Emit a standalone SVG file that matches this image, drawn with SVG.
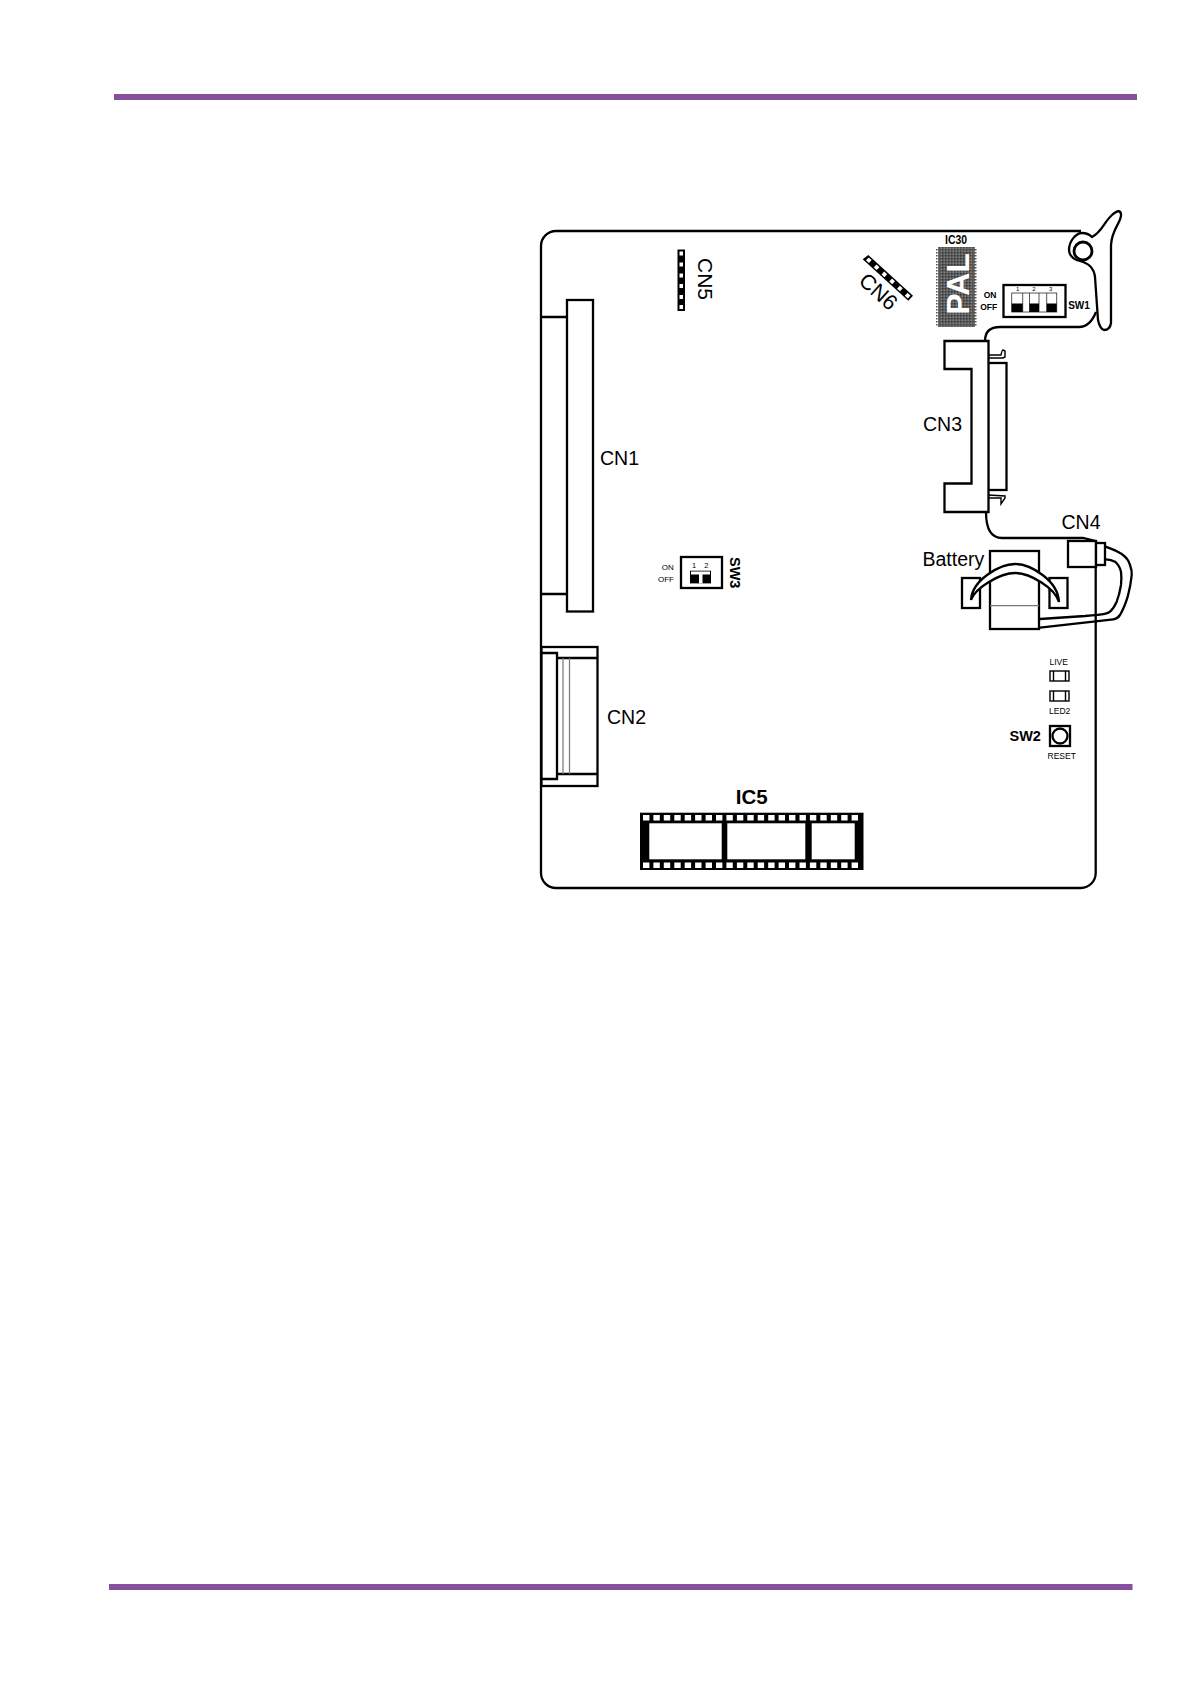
<svg xmlns="http://www.w3.org/2000/svg" width="1190" height="1684" viewBox="0 0 1190 1684">
<style>
text{font-family:"Liberation Sans",Arial,sans-serif;fill:#000}
.l{fill:none;stroke:#000;stroke-width:2.3}
.w{fill:#fff;stroke:#000;stroke-width:2.3}
.t{stroke-width:1.4}
.f{fill:none;stroke:#444;stroke-width:0.9}
.b{font-weight:bold}
.m{text-anchor:middle}
.h{fill:#fff}
.k{fill:#000}
.g{fill:none;stroke:#777;stroke-width:1.2}
</style>
<defs>
<pattern id="dots" width="3" height="3" patternUnits="userSpaceOnUse">
<rect width="3" height="3" fill="#5a5a5a"/>
<rect width="1.500" height="1.500" fill="#3a3a3a"/>
<rect x="1.500" y="1.500" width="1.500" height="1.500" fill="#7e7e7e"/>
</pattern>
<pattern id="edge" width="3" height="3" patternUnits="userSpaceOnUse">
<rect width="1.500" height="1.500" fill="#555"/>
</pattern>
</defs>
<rect width="1190" height="1684" fill="#fff"/>
<rect id="top-rule" x="114" y="94" width="1023" height="6" fill="#87509f"/>
<rect id="bottom-rule" x="109" y="1584" width="1023.500" height="6" fill="#87509f"/>
<g id="board">
<path class="l" d="M1081 231H556A15 15 0 0 0 541 246V873A15 15 0 0 0 556 888H1081A15 15 0 0 0 1095.700 873V541M986 512C986 528 990 538 1002 538H1083L1095.700 541"/>
<path class="l" d="M1096 312Q1090 327 1079 327H1000Q985 327 985 341"/>
</g>
<g id="latch">
<path class="w" d="M1092 237C1102 232 1104 222 1112 215Q1120 208 1121 214C1122 222 1112 228 1111 245L1111 323Q1110 330 1104 330Q1100 329 1098 320L1095 277C1094 268 1088 263 1080 261C1071 259 1069 253 1069 250C1069 241 1076 233 1082 233Q1088 233 1092 237Z"/>
<circle cx="1083" cy="251" r="9" fill="none" stroke="#000" stroke-width="2.800"/>
</g>
<g id="cn1">
<path class="l" d="M541 317H567M541 594H567"/>
<rect class="w" x="567" y="300" width="26" height="311.500"/>
<text x="600" y="465" font-size="19.500">CN1</text>
</g>
<g id="cn2">
<rect class="w" x="541.500" y="647" width="56" height="139"/>
<path class="l" d="M541 653H557V779H541M557 658H597M557 774H597"/>
<path class="g" d="M563 658V774M569.500 658V774"/>
<text x="607" y="724" font-size="19.500">CN2</text>
</g>
<g id="cn3">
<rect class="l" x="988" y="363" width="18.500" height="127"/>
<path class="l t" d="M988 355H1001Q1002 350 1003 350L1005 351V357L1003 358H988M988 495L1005 496V498L1001 504V498H988"/>
<path class="w" d="M944.500 341H988.500V512H944.500V483.500H971.500V369H944.500Z"/>
<text x="923" y="431" font-size="19.500">CN3</text>
</g>
<g id="cn4">
<path class="l" d="M1105.700 546.700C1112 549 1117 551 1121.700 554C1126 557 1129 561 1130 565C1131.500 569 1132 572 1131.700 575C1131 583 1129.500 590 1127.700 596.700C1125.500 604 1123 610 1120 615C1118 618 1116 619 1113.300 619.300L1040 627.700M1105.700 559.300C1109 559.500 1112 560 1115 561.700C1118 564 1120 568 1121 571.700C1121.500 576 1121.500 581 1121 585C1120 591 1118.500 597 1116.700 601.700C1115 605.500 1113 609 1110 611.700C1108 613.500 1106 614 1085 616L1040 619"/>
<rect class="w" x="1068" y="541" width="28" height="26"/>
<rect class="w" x="1096" y="543" width="9" height="22"/>
<text x="1061.500" y="529" font-size="19.500">CN4</text>
</g>
<g id="battery">
<rect class="w" x="990" y="551" width="49" height="78"/>
<path class="g" d="M990 605.700H1039"/>
<rect class="w" x="962" y="578" width="18" height="30"/>
<rect class="w" x="1049.500" y="578" width="18" height="30"/>
<path class="w" d="M971 600C972 580 1000 564 1015 564C1030 564 1058 580 1059 602C1055 588 1030 573 1015 573C1000 573 975 588 971 600Z"/>
<text x="922.500" y="566" font-size="19.500">Battery</text>
</g>
<g id="cn5">
<rect class="k" x="677.500" y="249.500" width="7.500" height="61.500"/>
<g class="h">
<rect x="679.500" y="251.500" width="3.500" height="4"/>
<rect x="679.500" y="262.500" width="3.500" height="4"/>
<rect x="679.500" y="273.500" width="3.500" height="4"/>
<rect x="679.500" y="284" width="3.500" height="4"/>
<rect x="679.500" y="295" width="3.500" height="4"/>
<rect x="679.500" y="305" width="3.500" height="4"/>
</g>
<text transform="translate(698 258) rotate(90)" font-size="21">CN5</text>
</g>
<g id="cn6">
<polygon class="k" points="862.700,259.300 868.300,255 913,295.700 908.300,300.700"/>
<g class="h" transform="translate(865.500 257.200) rotate(42.300)">
<rect x="2.500" y="-2" width="4" height="4"/>
<rect x="13" y="-2" width="4" height="4"/>
<rect x="23.500" y="-2" width="4" height="4"/>
<rect x="34" y="-2" width="4" height="4"/>
<rect x="44.500" y="-2" width="4" height="4"/>
<rect x="55" y="-2" width="4" height="4"/>
</g>
<text class="m" transform="translate(873.500 297) rotate(42)" font-size="21.500">CN6</text>
</g>
<g id="ic30">
<text class="b" x="945" y="244" font-size="12.500" textLength="22" lengthAdjust="spacingAndGlyphs">IC30</text>
<rect x="938" y="247" width="37" height="80" fill="url(#dots)"/>
<rect x="936" y="248" width="41" height="78" fill="url(#edge)"/>
<rect x="942" y="250" width="29" height="74" fill="url(#dots)"/>
<text class="b m" transform="translate(968.500 284) rotate(-90)" font-size="32" style="fill:#fff">PAL</text>
</g>
<g id="sw1">
<rect class="w" x="1003.500" y="285" width="62" height="32"/>
<rect class="f" x="1011.700" y="293" width="45" height="19"/>
<path class="f" d="M1022.700 293V312M1029.500 293V312M1039 293V312M1046.700 293V312"/>
<rect class="k" x="1011.700" y="303.500" width="11" height="8.500"/>
<rect class="k" x="1029.500" y="303.500" width="9.500" height="8.500"/>
<rect class="k" x="1046.700" y="303.500" width="10" height="8.500"/>
<g class="m" font-size="6"><text x="1017.700" y="291">1</text><text x="1034" y="291">2</text><text x="1050.700" y="291">3</text></g>
<g class="b m" font-size="8.500"><text x="990" y="298">ON</text><text x="988.700" y="310">OFF</text></g>
<text class="b m" x="1079" y="309" font-size="10">SW1</text>
</g>
<g id="sw3">
<rect class="w" x="681" y="557" width="41" height="31"/>
<rect class="k" x="690" y="570.700" width="21" height="12.700"/>
<path class="h" d="M691 571.500H710V574.500H702.500V583.400H699V574.500H691Z"/>
<g class="m" font-size="7.500"><text x="694" y="567.500">1</text><text x="706.300" y="567.500">2</text></g>
<g class="m" font-size="8"><text x="667.700" y="569.500">ON</text><text x="666" y="582">OFF</text></g>
<text class="b m" transform="translate(730 572.700) rotate(90)" font-size="14.500">SW3</text>
</g>
<g id="leds">
<text class="m" x="1058.700" y="665" font-size="8.500">LIVE</text>
<rect class="l t" x="1050" y="671" width="19" height="10"/>
<path class="l t" d="M1053.500 671V681M1065.500 671V681"/>
<rect class="l t" x="1050" y="691" width="19" height="10"/>
<path class="l t" d="M1053.500 691V701M1065.500 691V701"/>
<text class="m" x="1059.700" y="714" font-size="8.500">LED2</text>
</g>
<g id="sw2">
<text class="b" x="1009.500" y="741" font-size="14.500">SW2</text>
<rect class="l" x="1050" y="726" width="20" height="20"/>
<circle class="l" cx="1060" cy="736" r="7.500"/>
<text class="m" x="1061.700" y="759" font-size="8.500">RESET</text>
</g>
<g id="ic5">
<text class="b m" x="751.700" y="804" font-size="20.500">IC5</text>
<rect class="k" x="640" y="812.700" width="223.500" height="57.300"/>
<g class="h">
<rect x="649.300" y="823.300" width="72.400" height="36"/>
<rect x="727.300" y="823.300" width="78" height="36"/>
<rect x="811.700" y="823.300" width="43" height="36"/>
</g>
<g id="ic5-pins" class="h">
<rect x="643" y="815" width="6.400" height="5.500"/><rect x="653.400" y="815" width="6.400" height="5.500"/><rect x="663.800" y="815" width="6.400" height="5.500"/><rect x="674.300" y="815" width="6.400" height="5.500"/><rect x="684.700" y="815" width="6.400" height="5.500"/><rect x="695.100" y="815" width="6.400" height="5.500"/><rect x="705.600" y="815" width="6.400" height="5.500"/><rect x="716" y="815" width="6.400" height="5.500"/><rect x="726.400" y="815" width="6.400" height="5.500"/><rect x="736.900" y="815" width="6.400" height="5.500"/><rect x="747.300" y="815" width="6.400" height="5.500"/><rect x="757.700" y="815" width="6.400" height="5.500"/><rect x="768.200" y="815" width="6.400" height="5.500"/><rect x="778.600" y="815" width="6.400" height="5.500"/><rect x="789" y="815" width="6.400" height="5.500"/><rect x="799.500" y="815" width="6.400" height="5.500"/><rect x="809.900" y="815" width="6.400" height="5.500"/><rect x="820.300" y="815" width="6.400" height="5.500"/><rect x="830.800" y="815" width="6.400" height="5.500"/><rect x="841.200" y="815" width="6.400" height="5.500"/><rect x="851.600" y="815" width="6.400" height="5.500"/>
<rect x="643" y="862.500" width="6.400" height="5.500"/><rect x="653.400" y="862.500" width="6.400" height="5.500"/><rect x="663.800" y="862.500" width="6.400" height="5.500"/><rect x="674.300" y="862.500" width="6.400" height="5.500"/><rect x="684.700" y="862.500" width="6.400" height="5.500"/><rect x="695.100" y="862.500" width="6.400" height="5.500"/><rect x="705.600" y="862.500" width="6.400" height="5.500"/><rect x="716" y="862.500" width="6.400" height="5.500"/><rect x="726.400" y="862.500" width="6.400" height="5.500"/><rect x="736.900" y="862.500" width="6.400" height="5.500"/><rect x="747.300" y="862.500" width="6.400" height="5.500"/><rect x="757.700" y="862.500" width="6.400" height="5.500"/><rect x="768.200" y="862.500" width="6.400" height="5.500"/><rect x="778.600" y="862.500" width="6.400" height="5.500"/><rect x="789" y="862.500" width="6.400" height="5.500"/><rect x="799.500" y="862.500" width="6.400" height="5.500"/><rect x="809.900" y="862.500" width="6.400" height="5.500"/><rect x="820.300" y="862.500" width="6.400" height="5.500"/><rect x="830.800" y="862.500" width="6.400" height="5.500"/><rect x="841.200" y="862.500" width="6.400" height="5.500"/><rect x="851.600" y="862.500" width="6.400" height="5.500"/>
</g>
</g>
<g id="connectors"></g>
</svg>
